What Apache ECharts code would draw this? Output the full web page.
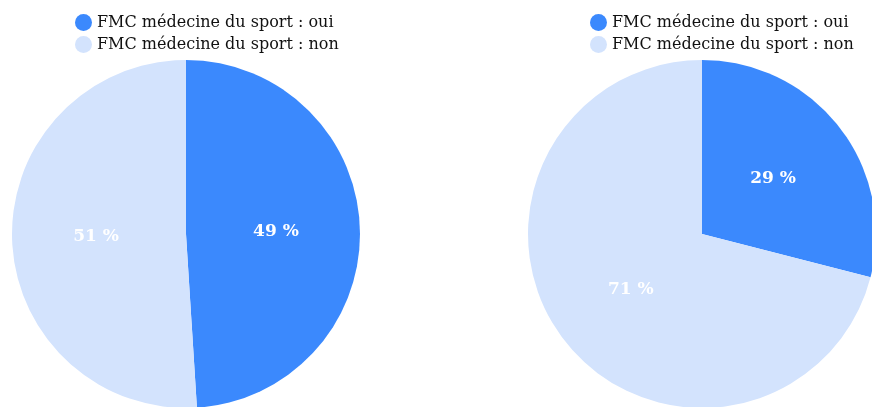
<!DOCTYPE html>
<html>
<head>
<meta charset="utf-8">
<script src="https://cdn.jsdelivr.net/npm/echarts@6/dist/echarts.min.js"></script>
<style>
  html, body { margin: 0; padding: 0; background: #fff; }
  #chart { width: 872px; height: 407px; }
</style>
</head>
<body>
<div id="chart"></div>
<script>
// categories
var categories = ["FMC médecine du sport : oui", "FMC médecine du sport : non"];
// values (%) for the two pies
var leftValues = [49, 51];
var rightValues = [29, 71];
var colors = ["#3b89fd", "#d3e3fd"];

function pieData(values) {
  return categories.map(function (name, i) {
    return { name: name, value: values[i] };
  });
}

function pieSeries(values, cx) {
  return {
    type: "pie",
    center: [cx, 234],
    radius: 174,
    startAngle: 90,
    clockwise: true,
    silent: true,
    label: {
      show: true,
      position: "inside",
      formatter: "{c} %",
      color: "#fff",
      fontFamily: "DejaVu Serif",
      fontWeight: "bold",
      fontSize: 17
    },
    labelLine: { show: false },
    data: pieData(values)
  };
}

function legend(left) {
  return {
    orient: "vertical",
    left: left,
    top: 9,
    icon: "circle",
    itemWidth: 17,
    itemHeight: 17,
    itemGap: 5,
    selectedMode: false,
    textStyle: { fontFamily: "DejaVu Serif", fontSize: 16, color: "#111" },
    data: categories
  };
}

var myChart = echarts.init(document.getElementById("chart"));
myChart.setOption({
  animation: false,
  color: colors,
  legend: [legend(70), legend(585)],
  series: [pieSeries(leftValues, 186), pieSeries(rightValues, 702)]
});
</script>
</body>
</html>
